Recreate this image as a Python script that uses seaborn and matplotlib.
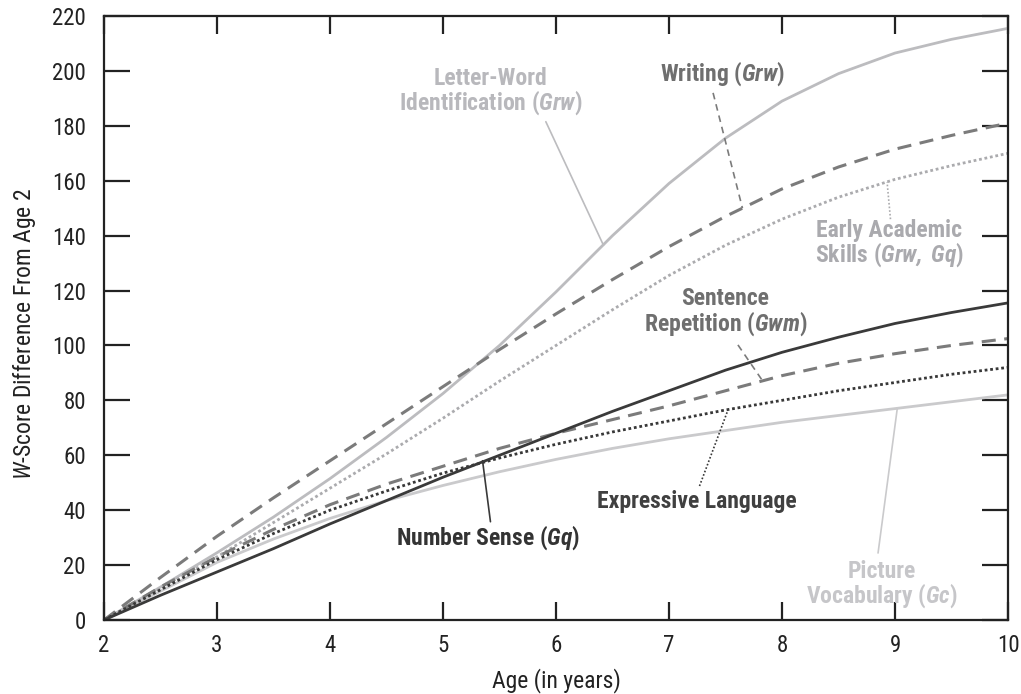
import matplotlib
matplotlib.use("Agg")
import matplotlib.pyplot as plt
import seaborn as sns
import pandas as pd
from matplotlib import font_manager as fm

# ---------------- data ----------------
ages = [2, 2.5, 3, 3.5, 4, 4.5, 5, 5.5, 6, 6.5, 7, 7.5, 8, 8.5, 9, 9.5, 10]
letter_word = [0, 12, 24.5, 37.5, 51.5, 66.5, 82.5, 100, 119.5, 140, 159, 175.5, 189, 199, 206.5, 211.5, 215.5]
writing = [0, 15.5, 30.5, 44.5, 58, 71.5, 85, 98.5, 111.5, 124, 136, 147, 157, 165, 171.5, 176.5, 181]
early_academic = [0, 11.5, 23, 35.5, 48, 60.5, 73.5, 87, 100, 113, 125.5, 136.5, 146, 154, 160.5, 165.5, 170]
number_sense = [0, 9, 17.5, 26, 35, 43.5, 52, 60, 68, 76, 83.5, 91, 97.5, 103, 108, 112, 115.5]
sentence_rep = [0, 12, 23, 33, 42, 49.5, 56, 62.5, 68, 73, 78, 83.5, 89, 93.5, 97, 100, 102.5]
expressive_lang = [0, 11, 22, 31.5, 40, 47, 53.5, 59, 64, 68.5, 72.5, 76.5, 80, 83.5, 86.5, 89.5, 92]
picture_vocab = [0, 10.5, 21, 29.5, 37, 43.5, 49, 54, 58.5, 62.5, 66, 69, 72, 74.5, 77, 79.5, 82]

x_ticks = [2, 3, 4, 5, 6, 7, 8, 9, 10]
y_ticks = [0, 20, 40, 60, 80, 100, 120, 140, 160, 180, 200, 220]

# ---------------- fonts ----------------
sns.set_theme(style="ticks")
avail = {f.name for f in fm.fontManager.ttflist}
cands = ["Liberation Sans Narrow", "Roboto Condensed", "Open Sans Condensed", "Liberation Sans"]
FONT = next((c for c in cands if c in avail), "DejaVu Sans")
plt.rcParams["font.family"] = [FONT, "DejaVu Sans"]
plt.rcParams["mathtext.fontset"] = "custom"
plt.rcParams["mathtext.rm"] = FONT
plt.rcParams["mathtext.it"] = FONT + ":italic"
plt.rcParams["mathtext.bf"] = FONT + ":bold"
if "mathtext.bfit" in plt.rcParams:
    plt.rcParams["mathtext.bfit"] = FONT + ":bold:italic"
    BI = r"\mathbfit"
else:
    BI = r"\mathit"


def bi(s):
    return "$" + BI + "{" + s + "}$"


# ---------------- figure ----------------
fig = plt.figure(figsize=(10.21, 6.94), dpi=100)
ax = fig.add_axes([104 / 1021, 74 / 694, 904 / 1021, 604 / 694])

series = [
    # name, values, color, lw, dashes (None = solid)
    ("Picture Vocabulary", picture_vocab, "#cacacc", 2.0, None),
    ("Letter-Word", letter_word, "#bcbcbf", 2.0, None),
    ("Early Academic", early_academic, "#ababae", 2.0, (1.0, 1.0)),
    ("Writing", writing, "#7b7b7b", 2.2, (4.6, 2.8)),
    ("Sentence Repetition", sentence_rep, "#7b7b7b", 2.2, (4.6, 2.8)),
    ("Expressive Language", expressive_lang, "#383838", 2.0, (1.0, 1.0)),
    ("Number Sense", number_sense, "#3a3a3a", 2.0, None),
]

for name, vals, col, lw, dsh in series:
    df = pd.DataFrame({"age": ages, "w": vals})
    sns.lineplot(data=df, x="age", y="w", ax=ax, color=col, lw=lw)
    ln = ax.lines[-1]
    if dsh is not None:
        ln.set_dashes(dsh)
        ln.set_dash_capstyle("butt")
    ln.set_solid_capstyle("butt")
    ln.set_solid_joinstyle("round")

ax.set_xlim(2, 10)
ax.set_ylim(0, 220)
ax.set_xticks(x_ticks)
ax.set_yticks(y_ticks)
ax.set_xticklabels([str(t) for t in x_ticks])
ax.set_yticklabels([str(t) for t in y_ticks])

for sp in ax.spines.values():
    sp.set_visible(True)
    sp.set_linewidth(1.6)
    sp.set_color("#222222")

ax.tick_params(axis="y", direction="in", length=19, width=1.6, color="#222222",
               left=True, right=True, labelleft=True, labelright=False,
               labelsize=16.5, pad=13, labelcolor="#222222")
ax.tick_params(axis="x", direction="in", length=13, width=1.6, color="#222222",
               bottom=True, top=True, labelbottom=True, labeltop=False,
               labelsize=16.5, pad=10, labelcolor="#222222")

ax.set_xlabel("Age (in years)", fontsize=17, color="#222222", labelpad=8)
ax.set_ylabel(r"$\mathit{W}$-Score Difference From Age 2", fontsize=17,
              color="#222222")
ax.yaxis.set_label_coords(-0.073, 0.4735)

# ---------------- annotations (label text, label pos, leader start, leader end) ----------------
notes = [
    ("Letter-Word\nIdentification (" + bi("Grw") + ")", (5.42, 192.3), (5.91, 181.5), (6.42, 136.5),
     "#b8b8bc", "#bcbcbf", "-"),
    ("Writing (" + bi("Grw") + ")", (7.47, 198.9), (7.39, 192.0), (7.65, 150.0),
     "#6f6f6f", "#7b7b7b", (0, (4, 3))),
    ("Early Academic\nSkills (" + bi("Grw,") + " " + bi("Gq") + ")", (8.95, 137.0), (8.96, 146.0), (8.93, 159.5),
     "#aaaaae", "#ababae", (0, (1, 1.2))),
    ("Sentence\nRepetition (" + bi("Gwm") + ")", (7.50, 112.0), (7.61, 100.2), (7.83, 87.0),
     "#6f6f6f", "#7b7b7b", (0, (4, 3))),
    ("Expressive Language", (7.25, 43.0), (7.27, 48.8), (7.52, 76.3),
     "#404040", "#383838", (0, (1, 1.2))),
    ("Number Sense (" + bi("Gq") + ")", (5.40, 29.9), (5.42, 35.8), (5.35, 58.0),
     "#333333", "#3a3a3a", "-"),
    ("Picture\nVocabulary (" + bi("Gc") + ")", (8.88, 12.8), (8.85, 24.4), (9.02, 77.0),
     "#c6c6c9", "#cacacc", "-"),
]

for txt, pos, p0, p1, tcol, lcol, ls in notes:
    ax.text(pos[0], pos[1], txt, ha="center", va="center", fontsize=17,
            fontweight="bold", color=tcol, linespacing=0.95, zorder=5)
    ax.plot([p0[0], p1[0]], [p0[1], p1[1]], color=lcol, lw=1.2, linestyle=ls, zorder=4)

fig.savefig("out.png", dpi=100)
